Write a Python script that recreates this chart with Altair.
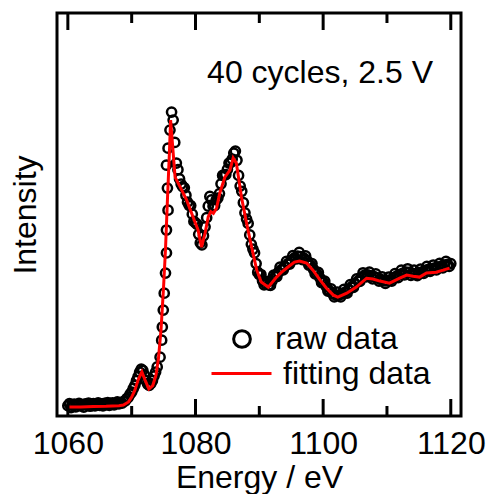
import altair as alt
import pandas as pd

# ---------------- data ----------------
RAW_E = [1060.00, 1060.25, 1060.50, 1060.75, 1061.00, 1061.25, 1061.50, 1061.75, 1062.00, 1062.25,
         1062.50, 1062.75, 1063.00, 1063.25, 1063.50, 1063.75, 1064.00, 1064.25, 1064.50, 1064.75,
         1065.00, 1065.25, 1065.50, 1065.75, 1066.00, 1066.25, 1066.50, 1066.75, 1067.00, 1067.25,
         1067.50, 1067.75, 1068.00, 1068.25, 1068.50, 1068.75, 1069.00, 1069.25, 1069.50, 1069.75,
         1070.00, 1070.25, 1070.50, 1070.75, 1071.00, 1071.25, 1071.50, 1071.75, 1072.00, 1072.25,
         1072.50, 1072.75, 1073.00, 1073.25, 1073.50, 1073.75, 1074.00,
         1074.45, 1074.70, 1074.80, 1074.95, 1075.10, 1075.30, 1075.45, 1075.45, 1075.70, 1075.60,
         1075.45, 1075.70, 1076.00, 1076.25,
         1076.50, 1076.75, 1077.00, 1077.25, 1077.50, 1077.75, 1078.00, 1078.25, 1078.50, 1078.75,
         1079.00, 1079.25, 1079.50, 1079.75, 1080.00, 1080.25, 1080.50, 1080.75, 1081.00, 1081.25,
         1081.50, 1081.75, 1082.00, 1082.25, 1082.50, 1082.75, 1083.00, 1083.25, 1083.50, 1083.75,
         1084.00, 1084.25, 1084.50, 1084.75, 1085.00, 1085.25, 1085.50, 1085.75, 1086.00, 1086.25,
         1086.50, 1086.75, 1087.00, 1087.25, 1087.50, 1087.75, 1088.00, 1088.25, 1088.50, 1088.75,
         1089.00, 1089.25, 1089.50, 1089.75, 1090.00, 1090.25, 1090.50, 1090.75, 1091.00, 1091.25,
         1091.50, 1091.75, 1092.00, 1092.25, 1092.50, 1092.75, 1093.00, 1093.25, 1093.50, 1093.75,
         1094.00, 1094.25, 1094.50, 1094.75, 1095.00, 1095.25, 1095.50, 1095.75, 1096.00, 1096.25,
         1096.50, 1096.75, 1097.00, 1097.25, 1097.50, 1097.75, 1098.00, 1098.25, 1098.50, 1098.75,
         1099.00, 1099.25, 1099.50, 1099.75, 1100.00, 1100.25, 1100.50, 1100.75, 1101.00, 1101.25,
         1101.50, 1101.75, 1102.00, 1102.25, 1102.50, 1102.75, 1103.00, 1103.25, 1103.50, 1103.75,
         1104.00, 1104.25, 1104.50, 1104.75, 1105.00, 1105.25, 1105.50, 1105.75, 1106.00, 1106.25,
         1106.50, 1106.75, 1107.00, 1107.25, 1107.50, 1107.75, 1108.00, 1108.25, 1108.50, 1108.75,
         1109.00, 1109.25, 1109.50, 1109.75, 1110.00, 1110.25, 1110.50, 1110.75, 1111.00, 1111.25,
         1111.50, 1111.75, 1112.00, 1112.25, 1112.50, 1112.75, 1113.00, 1113.25, 1113.50, 1113.75,
         1114.00, 1114.25, 1114.50, 1114.75, 1115.00, 1115.25, 1115.50, 1115.75, 1116.00, 1116.25,
         1116.50, 1116.75, 1117.00, 1117.25, 1117.50, 1117.75, 1118.00, 1118.25, 1118.50, 1118.75,
         1119.00, 1119.25, 1119.50, 1119.75, 1120.00]
RAW_I = [0.005, 0.012, -0.002, 0.006, 0.010, 0.001, 0.008, 0.013, 0.004, 0.009,
         0.000, 0.011, 0.007, 0.014, 0.003, 0.010, 0.012, 0.004, 0.009, 0.015,
         0.006, 0.011, 0.004, 0.013, 0.009, 0.016, 0.006, 0.012, 0.015, 0.008,
         0.013, 0.018, 0.011, 0.016, 0.014, 0.020, 0.022, 0.030, 0.035, 0.045,
         0.052, 0.065, 0.076, 0.092, 0.106, 0.122, 0.132, 0.128, 0.112, 0.092,
         0.080, 0.076, 0.082, 0.092, 0.108, 0.122, 0.140,
         0.174, 0.233, 0.279, 0.338, 0.397, 0.467, 0.537, 0.617, 0.686, 0.763,
         0.843, 0.902, 0.965, 1.028,
         1.000, 0.922, 0.850, 0.827, 0.795, 0.777, 0.768, 0.764, 0.738, 0.714,
         0.703, 0.702, 0.672, 0.647, 0.642, 0.637, 0.602, 0.572, 0.565, 0.597,
         0.628, 0.660, 0.700, 0.734, 0.722, 0.700, 0.702, 0.722, 0.728, 0.744,
         0.778, 0.807, 0.808, 0.810, 0.828, 0.850, 0.852, 0.864, 0.885, 0.892,
         0.860, 0.807, 0.770, 0.752, 0.712, 0.677, 0.655, 0.640, 0.600, 0.567,
         0.550, 0.537, 0.500, 0.470, 0.462, 0.462, 0.440, 0.426, 0.430, 0.438,
         0.426, 0.424, 0.440, 0.460, 0.456, 0.455, 0.470, 0.488, 0.480, 0.478,
         0.490, 0.508, 0.500, 0.498, 0.510, 0.528, 0.520, 0.516, 0.526, 0.539,
         0.524, 0.514, 0.519, 0.527, 0.510, 0.495, 0.495, 0.500, 0.480, 0.464,
         0.465, 0.469, 0.450, 0.434, 0.435, 0.439, 0.420, 0.404, 0.405, 0.412,
         0.395, 0.384, 0.390, 0.401, 0.390, 0.384, 0.395, 0.410, 0.401, 0.397,
         0.410, 0.427, 0.420, 0.417, 0.430, 0.447, 0.440, 0.438, 0.451, 0.468,
         0.460, 0.454, 0.461, 0.470, 0.456, 0.447, 0.455, 0.464, 0.450, 0.439,
         0.445, 0.454, 0.440, 0.431, 0.440, 0.453, 0.443, 0.439, 0.450, 0.465,
         0.456, 0.451, 0.462, 0.477, 0.467, 0.461, 0.470, 0.482, 0.469, 0.459,
         0.466, 0.477, 0.465, 0.458, 0.467, 0.481, 0.471, 0.466, 0.476, 0.490,
         0.480, 0.473, 0.481, 0.495, 0.485, 0.478, 0.487, 0.501, 0.491, 0.485,
         0.495, 0.508, 0.497, 0.490, 0.500]

FIT_E = [1060.2, 1062.0, 1064.0, 1066.0, 1068.0, 1068.7, 1069.5, 1070.0, 1070.5, 1071.0,
         1071.6, 1072.1, 1072.7, 1073.3, 1073.8, 1074.2, 1074.6, 1075.0, 1075.3, 1075.6,
         1075.9, 1076.1, 1076.8, 1077.55, 1078.6, 1079.6, 1080.4, 1080.95, 1081.5, 1082.0,
         1082.4, 1082.8, 1083.3, 1083.8, 1084.6, 1085.4, 1085.9, 1086.4, 1087.2, 1088.0,
         1088.8, 1089.6, 1090.3, 1091.4, 1092.7, 1093.5, 1094.5, 1095.5, 1096.3, 1097.4,
         1098.4, 1099.5, 1100.5, 1101.6, 1102.3, 1103.7, 1105.2, 1106.8, 1107.8, 1108.9,
         1110.4, 1112.0, 1113.1, 1114.1, 1115.1, 1116.2, 1117.7, 1118.8, 1119.8]
FIT_I = [0.000, 0.000, 0.002, 0.003, 0.005, 0.007, 0.018, 0.035, 0.059, 0.094,
         0.123, 0.094, 0.063, 0.075, 0.110, 0.170, 0.270, 0.420, 0.550, 0.720,
         0.880, 1.000, 0.801, 0.769, 0.722, 0.663, 0.617, 0.557, 0.606, 0.663,
         0.681, 0.675, 0.693, 0.745, 0.801, 0.826, 0.868, 0.850, 0.732, 0.641,
         0.557, 0.477, 0.436, 0.418, 0.453, 0.470, 0.488, 0.505, 0.509, 0.502,
         0.477, 0.443, 0.415, 0.390, 0.383, 0.397, 0.418, 0.449, 0.446, 0.439,
         0.432, 0.449, 0.460, 0.456, 0.453, 0.467, 0.470, 0.477, 0.484]

SERIES = ["raw data", "fitting data"]
X_LABELS = [1060, 1080, 1100, 1120]
MAJOR_TICKS = [1060, 1080, 1100, 1120]
MINOR_TICKS = [1070, 1090, 1110]
ANNOTATION = ["40 cycles, 2.5 V"]

# ---------------- styling ----------------
W, H = 404, 403
FONT = "Liberation Sans"
FS = 32

raw_df = pd.DataFrame({"E": RAW_E, "I": RAW_I, "series": SERIES[0]})
fit_df = pd.DataFrame({"E": FIT_E, "I": FIT_I, "series": SERIES[1]})
major_df = pd.DataFrame({"E": MAJOR_TICKS})
minor_df = pd.DataFrame({"E": MINOR_TICKS})
text_df = pd.DataFrame({"t": ANNOTATION})

xscale = alt.Scale(domain=[1058.3, 1121.6], nice=False, zero=False)
yscale = alt.Scale(domain=[-0.031, 1.373], nice=False, zero=False)

xaxis = alt.Axis(values=X_LABELS, format="d", title="Energy / eV", grid=False, ticks=False,
                 domain=False, labelFont=FONT, labelFontSize=FS, labelColor="black",
                 labelPadding=12, labelFlush=False, titleFont=FONT, titleFontSize=FS,
                 titleFontWeight="normal", titleColor="black",
                 titleBaseline="alphabetic", titleY=71)
yaxis = alt.Axis(title="Intensity", grid=False, ticks=False, labels=False, domain=False,
                 titleFont=FONT, titleFontSize=FS, titleFontWeight="normal",
                 titleColor="black", titlePadding=15)

raw_legend = alt.Legend(
    title=None, orient="none", legendX=169, legendY=310, padding=0,
    labelFont=FONT, labelFontSize=FS, labelColor="black", labelOffset=17,
    symbolSize=280, symbolStrokeWidth=3, symbolStrokeColor="black",
    symbolFillColor="transparent", symbolType="circle",
)
fit_legend = alt.Legend(
    title=None, orient="none", legendX=153, legendY=329, padding=0,
    labelFont=FONT, labelFontSize=FS, labelColor="black", labelOffset=10,
    symbolSize=3600, symbolStrokeWidth=3, symbolType="stroke",
)

points = alt.Chart(raw_df).mark_point(filled=False, size=85, strokeWidth=2.5, opacity=1,
                                      color="black").encode(
    x=alt.X("E:Q", scale=xscale, axis=xaxis),
    y=alt.Y("I:Q", scale=yscale, axis=yaxis),
    shape=alt.Shape("series:N", scale=alt.Scale(domain=[SERIES[0]], range=["circle"]),
                    legend=raw_legend),
)

line = alt.Chart(fit_df).mark_line(strokeWidth=3).encode(
    x=alt.X("E:Q", scale=xscale, axis=xaxis),
    y=alt.Y("I:Q", scale=yscale, axis=yaxis),
    color=alt.Color("series:N", scale=alt.Scale(domain=[SERIES[1]], range=["#ff0000"]),
                    legend=fit_legend),
)

def ticks(df, length, top):
    if top:
        y0, y1 = 0, length
    else:
        y0, y1 = H, H - length
    return alt.Chart(df).mark_rule(color="black", strokeWidth=3).encode(
        x=alt.X("E:Q", scale=xscale, axis=xaxis),
        y=alt.value(y0), y2=alt.value(y1))

tick_layers = [ticks(major_df, 17, False), ticks(major_df, 17, True),
               ticks(minor_df, 10, False), ticks(minor_df, 10, True)]

label = alt.Chart(text_df).mark_text(
    align="right", baseline="alphabetic", font=FONT, fontSize=FS, color="black"
).encode(x=alt.value(376), y=alt.value(70), text="t:N")

chart = alt.layer(points, line, *tick_layers, label).properties(
    width=W, height=H,
    autosize=alt.AutoSizeParams(type="none"),
    padding={"left": 49, "top": 5, "right": 27, "bottom": 78},
).configure_view(stroke="black", strokeWidth=3)

chart.save("out.html", embed_options={"renderer": "svg", "actions": False})
